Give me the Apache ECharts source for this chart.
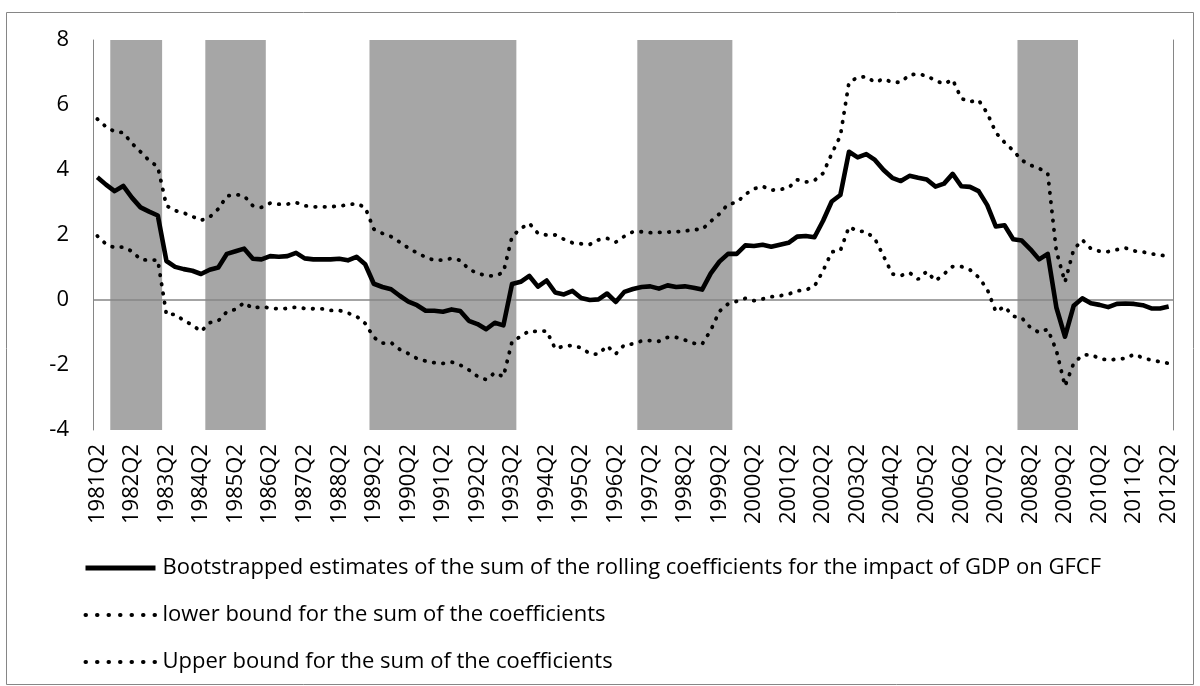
<!DOCTYPE html>
<html>
<head>
<meta charset="utf-8">
<script src="https://cdn.jsdelivr.net/npm/echarts@6/dist/echarts.min.js"></script>
<style>
  html, body { margin: 0; padding: 0; background: #fff; }
  #chart { width: 1200px; height: 686px; }
</style>
</head>
<body>
<div id="chart"></div>
<script>
// quarters 1981Q2 .. 2012Q2
const quarters = [];
for (let y = 1981; y <= 2012; y++) {
  for (let q = 1; q <= 4; q++) {
    if (y === 1981 && q < 2) continue;
    if (y === 2012 && q > 2) continue;
    quarters.push(y + "Q" + q);
  }
}

// shaded periods (first and last quarter)
const shadedPeriods = [
  ["1981Q4", "1983Q1"],
  ["1984Q3", "1986Q1"],
  ["1989Q2", "1993Q2"],
  ["1997Q1", "1999Q3"],
  ["2008Q1", "2009Q3"],
];

const estimate = [
  3.78, 3.55, 3.35, 3.51, 3.15, 2.85, 2.72, 2.6, 1.2, 1.02,
  0.95, 0.9, 0.8, 0.93, 1.0, 1.42, 1.5, 1.58, 1.27, 1.25,
  1.35, 1.33, 1.35, 1.45, 1.28, 1.25, 1.25, 1.25, 1.27, 1.22,
  1.33, 1.1, 0.5, 0.4, 0.33, 0.13, -0.05, -0.16, -0.33, -0.33,
  -0.36, -0.29, -0.34, -0.64, -0.74, -0.9, -0.7, -0.78, 0.49, 0.56,
  0.74, 0.41, 0.6, 0.23, 0.17, 0.28, 0.06, 0.0, 0.02, 0.2,
  -0.06, 0.25, 0.34, 0.4, 0.42, 0.35, 0.45, 0.4, 0.42, 0.38,
  0.32, 0.82, 1.18, 1.42, 1.42, 1.68, 1.66, 1.7, 1.64, 1.7,
  1.76, 1.95, 1.97, 1.93, 2.44, 3.03, 3.23, 4.56, 4.39, 4.49,
  4.31, 4.0, 3.76, 3.66, 3.82, 3.76, 3.71, 3.49, 3.58, 3.88,
  3.5, 3.48, 3.35, 2.92, 2.26, 2.3, 1.87, 1.83, 1.56, 1.25,
  1.42, -0.23, -1.13, -0.18, 0.05, -0.1, -0.15, -0.22, -0.12, -0.11,
  -0.12, -0.16, -0.26, -0.26, -0.2,
];

const lowerBound = [
  1.97, 1.72, 1.61, 1.63, 1.5, 1.25, 1.22, 1.23, -0.45, -0.44,
  -0.63, -0.77, -0.97, -0.7, -0.64, -0.36, -0.29, -0.08, -0.26, -0.2,
  -0.25, -0.27, -0.26, -0.22, -0.26, -0.27, -0.27, -0.32, -0.32, -0.4,
  -0.5, -0.72, -1.15, -1.33, -1.31, -1.52, -1.65, -1.8, -1.88, -1.93,
  -1.95, -1.91, -2.0, -2.15, -2.35, -2.45, -2.24, -2.36, -1.28, -1.12,
  -0.95, -0.97, -0.95, -1.5, -1.42, -1.4, -1.47, -1.65, -1.67, -1.41,
  -1.66, -1.38, -1.35, -1.26, -1.25, -1.27, -1.15, -1.15, -1.23, -1.33,
  -1.36, -0.93, -0.35, -0.12, -0.04, 0.05, -0.02, 0.03, 0.1, 0.13,
  0.18, 0.28, 0.31, 0.42, 0.9, 1.48, 1.52, 2.25, 2.12, 2.1,
  1.88, 1.35, 0.8, 0.75, 0.84, 0.64, 0.88, 0.59, 0.8, 1.03,
  1.03, 0.93, 0.7, 0.33, -0.36, -0.2, -0.5, -0.55, -0.85, -1.0,
  -0.9, -1.55, -2.65, -1.95, -1.7, -1.68, -1.8, -1.85, -1.82, -1.8,
  -1.67, -1.78, -1.85, -1.9, -1.95,
];

const upperBound = [
  5.57, 5.33, 5.18, 5.15, 4.82, 4.56, 4.29, 4.1, 2.9, 2.75,
  2.68, 2.57, 2.45, 2.55, 2.8, 3.2, 3.25, 3.2, 2.9, 2.85,
  2.98, 2.95, 2.95, 3.0, 2.9, 2.87, 2.86, 2.87, 2.89, 2.93,
  2.97, 2.85, 2.18, 2.05, 1.95, 1.78, 1.6, 1.45, 1.32, 1.22,
  1.23, 1.28, 1.22, 0.95, 0.82, 0.75, 0.74, 0.85, 1.95, 2.2,
  2.36, 2.05, 2.0, 2.0, 1.87, 1.76, 1.73, 1.71, 1.85, 1.9,
  1.78, 1.96, 2.1, 2.1, 2.07, 2.08, 2.09, 2.1, 2.12, 2.17,
  2.17, 2.42, 2.65, 2.95, 3.0, 3.25, 3.42, 3.5, 3.38, 3.4,
  3.45, 3.7, 3.63, 3.68, 3.9, 4.5, 5.05, 6.7, 6.85, 6.87,
  6.7, 6.8, 6.7, 6.7, 6.93, 6.95, 6.9, 6.75, 6.65, 6.78,
  6.2, 6.1, 6.15, 5.75, 5.15, 4.85, 4.6, 4.3, 4.15, 4.05,
  3.9, 1.5, 0.55, 1.55, 1.85, 1.58, 1.5, 1.49, 1.55, 1.6,
  1.51, 1.48, 1.42, 1.38, 1.35,
];

const seriesNames = [
  "Bootstrapped estimates of the sum of the rolling coefficients for the impact of GDP on GFCF",
  "lower bound for the sum of the coefficients",
  "Upper bound for the sum of the coefficients",
];

const yMin = -4;
const yMax = 8;

// band rectangles as [first index, last index]
const bandData = shadedPeriods.map(([a, b]) => [quarters.indexOf(a), quarters.indexOf(b)]);

const font = "'Open Sans', 'Liberation Sans', sans-serif";
const gray = "#a6a6a6";
const dotted = {
  color: "#000",
  width: 3.8,
  type: [0.5, 8.8],
  cap: "round",
};

function renderBand(params, api) {
  const p0 = api.coord([api.value(0), yMax]);
  const p1 = api.coord([api.value(1), yMin]);
  const w = api.size([1, 0])[0];
  return {
    type: "rect",
    shape: {
      x: p0[0] - w / 2,
      y: p0[1],
      width: p1[0] - p0[0] + w,
      height: p1[1] - p0[1],
    },
    style: { fill: gray },
  };
}

const chart = echarts.init(document.getElementById("chart"));
chart.setOption({
  animation: false,
  backgroundColor: "#fff",
  textStyle: { fontFamily: font },
  graphic: [
    {
      type: "rect",
      shape: { x: 6.5, y: 12.5, width: 1187, height: 672 },
      style: { fill: "none", stroke: "#868686", lineWidth: 1 },
      silent: true,
    },
  ],
  grid: { left: 93, right: 27, top: 40, bottom: 256 },
  legend: {
    orient: "vertical",
    left: 78,
    top: 552,
    itemWidth: 70,
    itemHeight: 22,
    itemGap: 25,
    data: [
      { name: seriesNames[0], lineStyle: { width: 5 } },
      { name: seriesNames[1], lineStyle: { width: 4, type: [0.5, 11], cap: "round" } },
      { name: seriesNames[2], lineStyle: { width: 4, type: [0.5, 11], cap: "round" } },
    ],
    itemStyle: { color: "rgba(0,0,0,0)", borderColor: "rgba(0,0,0,0)", borderWidth: 0 },
    textStyle: { fontSize: 22, color: "#000", fontFamily: font, padding: [0, 0, 0, 2] },
  },
  xAxis: {
    type: "category",
    data: quarters,
    boundaryGap: true,
    axisLine: { show: false, onZero: false },
    axisTick: { show: false },
    axisLabel: {
      interval: 3,
      rotate: 90,
      fontSize: 22,
      color: "#000",
      margin: 14,
      fontFamily: font,
    },
  },
  yAxis: [
    {
      type: "value",
      min: yMin,
      max: yMax,
      interval: 2,
      axisLine: { show: true, lineStyle: { color: "#868686", width: 1 } },
      axisTick: { show: false },
      splitLine: { show: false },
      axisLabel: { fontSize: 22, color: "#000", margin: 24, fontFamily: font },
    },
    {
      type: "value",
      min: yMin,
      max: yMax,
      interval: 2,
      position: "right",
      axisLine: { show: true, lineStyle: { color: "#868686", width: 1 } },
      axisTick: { show: false },
      splitLine: { show: false },
      axisLabel: { show: false },
    },
  ],
  series: [
    {
      type: "custom",
      data: bandData,
      renderItem: renderBand,
      encode: { x: [0, 1] },
      silent: true,
      clip: true,
      z: 1,
    },
    {
      name: seriesNames[0],
      type: "line",
      data: estimate,
      symbol: "none",
      lineStyle: { color: "#000", width: 4.6, join: "round" },
      itemStyle: { color: "#000" },
      z: 5,
      markLine: {
        silent: true,
        symbol: "none",
        label: { show: false },
        lineStyle: { color: "#868686", width: 1.5, type: "solid" },
        data: [{ yAxis: 0 }],
        z: 2,
      },
    },
    {
      name: seriesNames[1],
      type: "line",
      data: lowerBound,
      symbol: "none",
      lineStyle: dotted,
      itemStyle: { color: "#000" },
      z: 4,
    },
    {
      name: seriesNames[2],
      type: "line",
      data: upperBound,
      symbol: "none",
      lineStyle: dotted,
      itemStyle: { color: "#000" },
      z: 4,
    },
  ],
});
</script>
</body>
</html>
